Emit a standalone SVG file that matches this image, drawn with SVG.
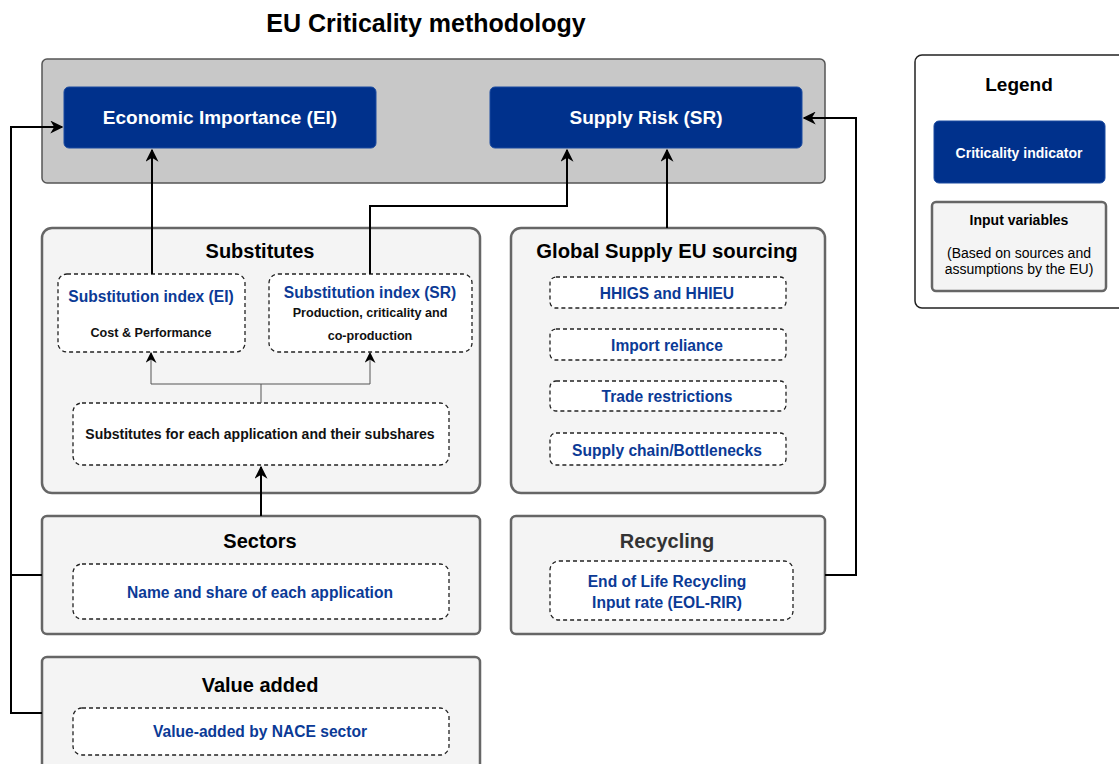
<svg xmlns="http://www.w3.org/2000/svg" width="1119" height="764" viewBox="0 0 1119 764">
  <defs>
    <marker id="arrBig" viewBox="0 0 10 10" refX="9" refY="5" markerWidth="13" markerHeight="13" markerUnits="userSpaceOnUse" orient="auto">
      <path d="M0,0 L10,5 L0,10 L3,5 Z" fill="#000"/>
    </marker>
    <marker id="arrThin" viewBox="0 0 10 10" refX="9" refY="5" markerWidth="11" markerHeight="11" markerUnits="userSpaceOnUse" orient="auto">
      <path d="M0,0 L10,5 L0,10 L3,5 Z" fill="#000"/>
    </marker>
  </defs>
  <style>
    text { font-family: "Liberation Sans", Arial, sans-serif; text-anchor: middle; dominant-baseline: central; font-weight: bold; }
    .panel { fill: #f4f4f4; stroke: #666; stroke-width: 2.5; }
    .top { fill: #c8c8c8; stroke: #555; stroke-width: 1.5; }
    .ind { fill: #00318c; stroke: #1a4aa0; stroke-width: 1; }
    .dash { fill: #fff; stroke: #222; stroke-width: 1.3; stroke-dasharray: 4 3; }
    .title { font-size: 20px; fill: #000; }
    .item { font-size: 15.6px; fill: #0b3a96; }
    .sub { font-size: 12.6px; fill: #111; }
    .wt { fill: #fff; }
    .link { fill: none; stroke: #000; stroke-width: 2; }
    .thin { fill: none; stroke: #555; stroke-width: 1; }
  </style>

  <text x="426" y="23" style="font-size:25px" fill="#000">EU Criticality methodology</text>

  <!-- criticality indicators -->
  <g id="indicators">
    <rect class="top" x="42" y="59" width="783" height="124" rx="5"/>
    <g id="ei">
      <rect class="ind" x="64" y="87" width="312" height="61" rx="5"/>
      <text class="wt" x="220" y="117" style="font-size:19px">Economic Importance (EI)</text>
    </g>
    <g id="sr">
      <rect class="ind" x="490" y="87" width="312" height="61" rx="5"/>
      <text class="wt" x="646" y="117" style="font-size:19px">Supply Risk (SR)</text>
    </g>
  </g>

  <!-- substitutes -->
  <g id="substitutes">
    <rect class="panel" x="42" y="228" width="438" height="265" rx="10"/>
    <text class="title" x="260" y="251">Substitutes</text>
    <g id="subst-ei">
      <rect class="dash" x="58" y="274" width="187" height="78" rx="9"/>
      <text class="item" x="151" y="296">Substitution index (EI)</text>
      <text class="sub" x="151" y="333">Cost &amp; Performance</text>
    </g>
    <g id="subst-sr">
      <rect class="dash" x="269" y="274" width="203" height="78" rx="9"/>
      <text class="item" x="370" y="292">Substitution index (SR)</text>
      <text class="sub" x="370" y="313">Production, criticality and</text>
      <text class="sub" x="370" y="336">co-production</text>
    </g>
    <g id="subst-apps">
      <rect class="dash" x="73" y="403" width="376" height="62" rx="9"/>
      <text class="sub" x="260" y="434" style="font-size:14px">Substitutes for each application and their subshares</text>
    </g>
  </g>

  <!-- global supply -->
  <g id="global-supply">
    <rect class="panel" x="511" y="228" width="314" height="265" rx="10"/>
    <text class="title" x="667" y="251" style="font-size:20.3px">Global Supply EU sourcing</text>
    <g id="hhi">
      <rect class="dash" x="550" y="277" width="236" height="31" rx="6"/>
      <text class="item" x="667" y="293">HHIGS and HHIEU</text>
    </g>
    <g id="import">
      <rect class="dash" x="550" y="329" width="236" height="31" rx="6"/>
      <text class="item" x="667" y="345">Import reliance</text>
    </g>
    <g id="trade">
      <rect class="dash" x="550" y="381" width="236" height="30" rx="6"/>
      <text class="item" x="667" y="396">Trade restrictions</text>
    </g>
    <g id="chain">
      <rect class="dash" x="550" y="433" width="236" height="32" rx="6"/>
      <text class="item" x="667" y="450">Supply chain/Bottlenecks</text>
    </g>
  </g>

  <!-- sectors -->
  <g id="sectors">
    <rect class="panel" x="42" y="516" width="438" height="118" rx="5"/>
    <text class="title" x="260" y="541">Sectors</text>
    <rect class="dash" x="73" y="564" width="376" height="55" rx="9"/>
    <text class="item" x="260" y="592">Name and share of each application</text>
  </g>

  <!-- recycling -->
  <g id="recycling">
    <rect class="panel" x="511" y="516" width="314" height="118" rx="5"/>
    <text class="title" x="667" y="541" style="fill:#333">Recycling</text>
    <rect class="dash" x="550" y="561" width="243" height="59" rx="9"/>
    <text class="item" x="667" y="581">End of Life Recycling</text>
    <text class="item" x="667" y="602">Input rate (EOL-RIR)</text>
  </g>

  <!-- value added -->
  <g id="value-added">
    <rect class="panel" x="42" y="657" width="438" height="120" rx="5"/>
    <text class="title" x="260" y="685">Value added</text>
    <rect class="dash" x="73" y="708" width="376" height="47" rx="9"/>
    <text class="item" x="260" y="731">Value-added by NACE sector</text>
  </g>

  <!-- legend -->
  <g id="legend">
    <rect x="915" y="55" width="220" height="253" rx="7" fill="#fff" stroke="#222" stroke-width="1.5"/>
    <text x="1019" y="84" style="font-size:19px">Legend</text>
    <rect class="ind" x="934" y="121" width="171" height="62" rx="5"/>
    <text class="wt" x="1019" y="153" style="font-size:14px">Criticality indicator</text>
    <rect x="932" y="202" width="174" height="89" rx="4" fill="#f4f4f4" stroke="#666" stroke-width="2.5"/>
    <text x="1019" y="220" style="font-size:14px">Input variables</text>
    <text x="1019" y="253" style="font-size:14px;font-weight:normal">(Based on sources and</text>
    <text x="1019" y="269" style="font-size:14px;font-weight:normal">assumptions by the EU)</text>
  </g>

  <!-- connectors -->
  <g id="connectors">
    <path class="link" d="M152,274 V150" marker-end="url(#arrBig)"/>
    <path class="link" d="M370,274 V206 H567 V150" marker-end="url(#arrBig)"/>
    <path class="link" d="M667,228 V150" marker-end="url(#arrBig)"/>
    <path class="link" d="M261,516 V467" marker-end="url(#arrBig)"/>
    <path class="link" d="M42,713 H11 V127 H62" marker-end="url(#arrBig)"/>
    <path class="link" d="M42,575 H11"/>
    <path class="link" d="M825,575 H856 V118 H804" marker-end="url(#arrBig)"/>
    <path class="thin" d="M261,403 V384 H151 V353" marker-end="url(#arrThin)"/>
    <path class="thin" d="M261,384 H370 V353" marker-end="url(#arrThin)"/>
  </g>
</svg>
